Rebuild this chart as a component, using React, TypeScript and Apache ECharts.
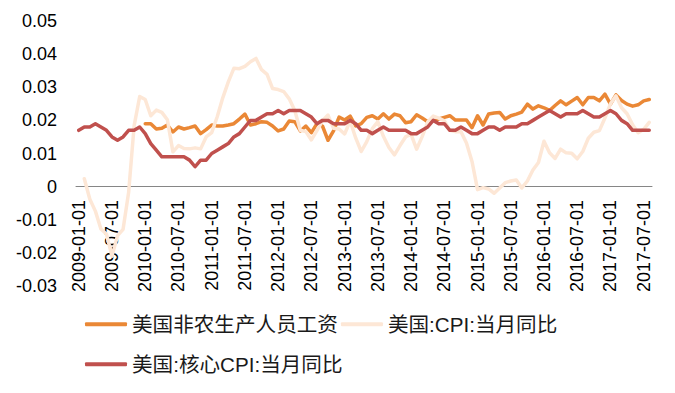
import React, { useEffect, useRef } from "react";
import * as echarts from "echarts";

// Monthly categories 2009-01 .. 2017-08
const startYear = 2009;
const monthCount = 104;
const categories: string[] = [];
for (let i = 0; i < monthCount; i++) {
  const y = startYear + Math.floor(i / 12);
  const m = (i % 12) + 1;
  categories.push(`${y}-${m < 10 ? "0" + m : m}-01`);
}

const yTicks = { min: -0.03, max: 0.05, interval: 0.01 };

const seriesNames = ["美国非农生产人员工资", "美国:CPI:当月同比", "美国:核心CPI:当月同比"];

const wages: (number | null)[] = [
  null, null, null, null, null, null, null, null, null, null, null, null,
  0.0190, 0.0190, 0.0174, 0.0176, 0.0186, 0.0165, 0.0180, 0.0174, 0.0178, 0.0183, 0.0160, 0.0172,
  0.0186, 0.0183, 0.0183, 0.0186, 0.0190, 0.0204, 0.0219, 0.0186, 0.0190, 0.0196, 0.0194, 0.0183,
  0.0168, 0.0174, 0.0198, 0.0196, 0.0168, 0.0183, 0.0163, 0.0190, 0.0183, 0.0140, 0.0168, 0.0210,
  0.0201, 0.0213, 0.0183, 0.0190, 0.0209, 0.0214, 0.0204, 0.0220, 0.0204, 0.0219, 0.0214, 0.0193,
  0.0196, 0.0217, 0.0207, 0.0196, 0.0200, 0.0204, 0.0209, 0.0214, 0.0201, 0.0201, 0.0201, 0.0178,
  0.0214, 0.0186, 0.0219, 0.0222, 0.0224, 0.0204, 0.0214, 0.0219, 0.0225, 0.0249, 0.0234, 0.0244,
  0.0238, 0.0230, 0.0245, 0.0259, 0.0247, 0.0258, 0.0269, 0.0247, 0.0269, 0.0269, 0.0259, 0.0279,
  0.0249, 0.0277, 0.0260, 0.0249, 0.0243, 0.0247, 0.0259, 0.0263,
];

const cpi: (number | null)[] = [
  null, 0.0024, -0.0038, -0.0074, -0.0128, -0.0143, -0.0210, -0.0148, -0.0129, -0.0018, 0.0184, 0.0272,
  0.0263, 0.0214, 0.0231, 0.0224, 0.0202, 0.0105, 0.0124, 0.0115, 0.0114, 0.0117, 0.0114, 0.0150,
  0.0163, 0.0211, 0.0268, 0.0316, 0.0357, 0.0356, 0.0363, 0.0377, 0.0387, 0.0353, 0.0339, 0.0296,
  0.0293, 0.0287, 0.0265, 0.0230, 0.0170, 0.0166, 0.0141, 0.0169, 0.0199, 0.0216, 0.0176, 0.0174,
  0.0159, 0.0198, 0.0147, 0.0106, 0.0136, 0.0175, 0.0196, 0.0152, 0.0118, 0.0096, 0.0124, 0.0150,
  0.0158, 0.0113, 0.0151, 0.0195, 0.0213, 0.0207, 0.0199, 0.0170, 0.0166, 0.0166, 0.0132, 0.0076,
  -0.0009, -0.0003, -0.0007, -0.0020, -0.0004, 0.0012, 0.0017, 0.0020, -0.0004, 0.0017, 0.0050, 0.0073,
  0.0137, 0.0102, 0.0085, 0.0113, 0.0102, 0.0101, 0.0084, 0.0106, 0.0146, 0.0164, 0.0169, 0.0207,
  0.0250, 0.0274, 0.0238, 0.0220, 0.0187, 0.0163, 0.0173, 0.0194,
];

const coreCpi: number[] = [
  0.017, 0.018, 0.018, 0.019, 0.018, 0.017, 0.015, 0.014, 0.015, 0.017, 0.017, 0.018,
  0.016, 0.013, 0.011, 0.009, 0.009, 0.009, 0.009, 0.009, 0.008, 0.006, 0.008, 0.008,
  0.010, 0.011, 0.012, 0.013, 0.015, 0.016, 0.018, 0.020, 0.020, 0.021, 0.022, 0.022,
  0.023, 0.022, 0.023, 0.023, 0.023, 0.022, 0.021, 0.019, 0.020, 0.020, 0.019, 0.019,
  0.019, 0.020, 0.019, 0.017, 0.017, 0.016, 0.017, 0.018, 0.017, 0.017, 0.017, 0.017,
  0.016, 0.016, 0.017, 0.018, 0.020, 0.019, 0.019, 0.017, 0.017, 0.018, 0.017, 0.016,
  0.016, 0.017, 0.018, 0.018, 0.017, 0.018, 0.018, 0.018, 0.019, 0.019, 0.020, 0.021,
  0.022, 0.023, 0.022, 0.021, 0.022, 0.022, 0.022, 0.023, 0.022, 0.021, 0.021, 0.022,
  0.023, 0.022, 0.020, 0.019, 0.017, 0.017, 0.017, 0.017,
];

const colors = ["#EA8836", "#FDE7D6", "#C0504D"];

const numFont = "'Liberation Sans', Arial, sans-serif";
const legendFont = "'Liberation Sans', 'Noto Sans CJK SC', sans-serif";

export default function App() {
  const ref = useRef<HTMLDivElement>(null);
  useEffect(() => {
    if (!ref.current) return;
    const chart = echarts.init(ref.current, undefined, { renderer: "svg" });
    const lineSeries = (name: string, data: (number | null)[], color: string, width: number) => ({
      name,
      type: "line",
      data,
      symbol: "none",
      showSymbol: false,
      color,
      lineStyle: { color, width, cap: "round", join: "round" },
    });
    const legendCommon = {
      left: 85,
      orient: "horizontal",
      itemWidth: 42,
      itemHeight: 4,
      itemGap: 3,
      padding: 0,
      icon: "roundRect",
      textStyle: { fontSize: 20.6, color: "#1a1a1a", fontFamily: legendFont },
    };
    chart.setOption({
      animation: false,
      grid: { left: 76, right: 23, top: 21, bottom: 107 },
      legend: [
        { ...legendCommon, top: 314, data: [seriesNames[0], seriesNames[1]] },
        { ...legendCommon, top: 354, data: [seriesNames[2]] },
      ],
      xAxis: {
        type: "category",
        data: categories,
        boundaryGap: true,
        axisLine: { onZero: true, lineStyle: { color: "#868686", width: 1 } },
        axisTick: { show: false },
        axisLabel: {
          interval: 5,
          rotate: 90,
          margin: -86,
          fontSize: 18,
          color: "#000",
          fontFamily: numFont,
        },
      },
      yAxis: {
        type: "value",
        min: yTicks.min,
        max: yTicks.max,
        interval: yTicks.interval,
        splitLine: { show: false },
        axisLine: { show: false },
        axisTick: { show: false },
        axisLabel: {
          margin: 19,
          fontSize: 18,
          color: "#000",
          fontFamily: numFont,
          formatter: (v: number) => (Math.abs(v) < 1e-9 ? "0" : v.toFixed(2)),
        },
      },
      series: [
        lineSeries(seriesNames[0], wages, colors[0], 3.5),
        lineSeries(seriesNames[1], cpi, colors[1], 3.5),
        lineSeries(seriesNames[2], coreCpi, colors[2], 3.5),
      ],
    });
    return () => chart.dispose();
  }, []);
  return (
    <div
      ref={ref}
      style={{ position: "fixed", left: 0, top: 0, width: 675, height: 393, background: "#fff" }}
    />
  );
}
